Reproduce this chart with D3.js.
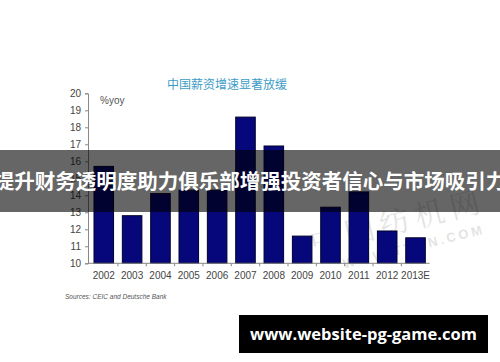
<!DOCTYPE html>
<html>
<head>
<meta charset="utf-8">
<script src="https://cdn.jsdelivr.net/npm/d3@7"></script>
<style>
  body { margin: 0; background: #fff; }
  svg { display: block; }
  .tick text { fill: #444; }
</style>
</head>
<body>
<script>
// wage growth, % yoy
var years = ["2002", "2003", "2004", "2005", "2006", "2007", "2008", "2009", "2010", "2011", "2012", "2013E"];
var growth = [15.7, 12.8, 14.1, 14.3, 14.3, 18.6, 16.9, 11.6, 13.3, 14.2, 11.9, 11.5];
var yTicks = [10, 11, 12, 13, 14, 15, 16, 17, 18, 19, 20];

var title = "中国薪资增速显著放缓";
var banner = "提升财务透明度助力俱乐部增强投资者信心与市场吸引力";
var site = "www.website-pg-game.com";

var width = 500;
var height = 362;
var font = "'Liberation Sans', Arial, sans-serif";
var cjk = "'Noto Sans CJK SC', sans-serif";

var svg = d3.select('body')
    .append("svg")
    .attr("width", width)
    .attr("height", height);

var xScale = d3.scaleBand()
    .domain(years)
    .range([89.6, 429.7])
    .paddingInner(0.31)
    .paddingOuter(0.155);

var yScale = d3.scaleLinear()
    .domain([10, 20])
    .range([263.3, 93.3]);

// title
svg.append("text")
    .attr("x", 227)
    .attr("y", 89)
    .attr("text-anchor", "middle")
    .attr("font-family", cjk)
    .attr("font-size", 12)
    .attr("fill", "#3d9cc6")
    .text(title);

svg.append("text")
    .attr("x", 100)
    .attr("y", 104)
    .attr("font-family", font)
    .attr("font-size", 10)
    .attr("fill", "#555")
    .text("%yoy");

// watermark
var wm = svg.append("g")
    .attr("transform", "translate(400,232) rotate(-14)")
    .attr("opacity", 0.13);
wm.append("text")
    .attr("text-anchor", "middle")
    .attr("font-family", "'Noto Serif CJK SC', " + cjk)
    .attr("font-size", 30)
    .attr("letter-spacing", 6)
    .attr("fill", "#333")
    .text("中国纺机网");
wm.append("text")
    .attr("y", 22)
    .attr("x", 10)
    .attr("text-anchor", "middle")
    .attr("font-family", font)
    .attr("font-weight", "bold")
    .attr("font-size", 13)
    .attr("letter-spacing", 3)
    .attr("fill", "#333")
    .text("WWW.TTMN.COM");

// bars
svg.selectAll("rect.bar")
    .data(growth)
    .enter()
    .append("rect")
    .attr("class", "bar")
    .attr("x", (d, i) => xScale(years[i]))
    .attr("width", xScale.bandwidth())
    .attr("y", (d) => yScale(d))
    .attr("height", (d) => yScale(10) - yScale(d))
    .attr("fill", "#07077c")
    .attr("stroke", "#00002a")
    .attr("stroke-width", 1);

// y axis
var yAxis = svg.append("g")
    .attr("transform", "translate(88,0)")
    .call(d3.axisLeft(yScale)
        .tickValues(yTicks)
        .tickSize(3)
        .tickPadding(4));
yAxis.select(".domain").attr("stroke", "#888");
yAxis.selectAll(".tick line").attr("stroke", "#888");
yAxis.selectAll("text")
    .attr("font-family", font)
    .attr("font-size", 10);

// x axis
var xAxis = svg.append("g")
    .attr("transform", "translate(0," + yScale(10) + ")")
    .call(d3.axisBottom(xScale)
        .tickSize(0)
        .tickPadding(9));
xAxis.select(".domain")
    .attr("d", "M88,0H" + xScale.range()[1])
    .attr("stroke", "#888");
xAxis.selectAll("text")
    .attr("font-family", font)
    .attr("font-size", 10);

// small ticks between bars
xAxis.selectAll("line.sep")
    .data(years.slice(1))
    .enter()
    .append("line")
    .attr("class", "sep")
    .attr("x1", (d) => xScale(d) - xScale.step() * xScale.paddingInner() / 2)
    .attr("x2", (d) => xScale(d) - xScale.step() * xScale.paddingInner() / 2)
    .attr("y1", 0)
    .attr("y2", 3)
    .attr("stroke", "#888");

svg.append("text")
    .attr("x", 65)
    .attr("y", 299)
    .attr("font-family", font)
    .attr("font-style", "italic")
    .attr("font-size", 6.5)
    .attr("fill", "#555")
    .text("Sources: CEIC and Deutsche Bank");

// overlay banner
svg.append("rect")
    .attr("x", 0)
    .attr("y", 150)
    .attr("width", width)
    .attr("height", 62)
    .attr("fill", "rgba(0,0,0,0.6)");

svg.append("text")
    .attr("x", width / 2)
    .attr("y", 189)
    .attr("text-anchor", "middle")
    .attr("font-family", cjk)
    .attr("font-weight", "bold")
    .attr("font-size", 20.5)
    .attr("fill", "#fff")
    .text(banner);

// site box
svg.append("rect")
    .attr("x", 239)
    .attr("y", 315)
    .attr("width", 249)
    .attr("height", 38)
    .attr("fill", "#000");

svg.append("text")
    .attr("x", 363.5)
    .attr("y", 340)
    .attr("text-anchor", "middle")
    .attr("font-family", "'Open Sans', sans-serif")
    .attr("font-weight", "bold")
    .attr("font-size", 16.5)
    .attr("fill", "#fff")
    .text(site);
</script>
</body>
</html>
